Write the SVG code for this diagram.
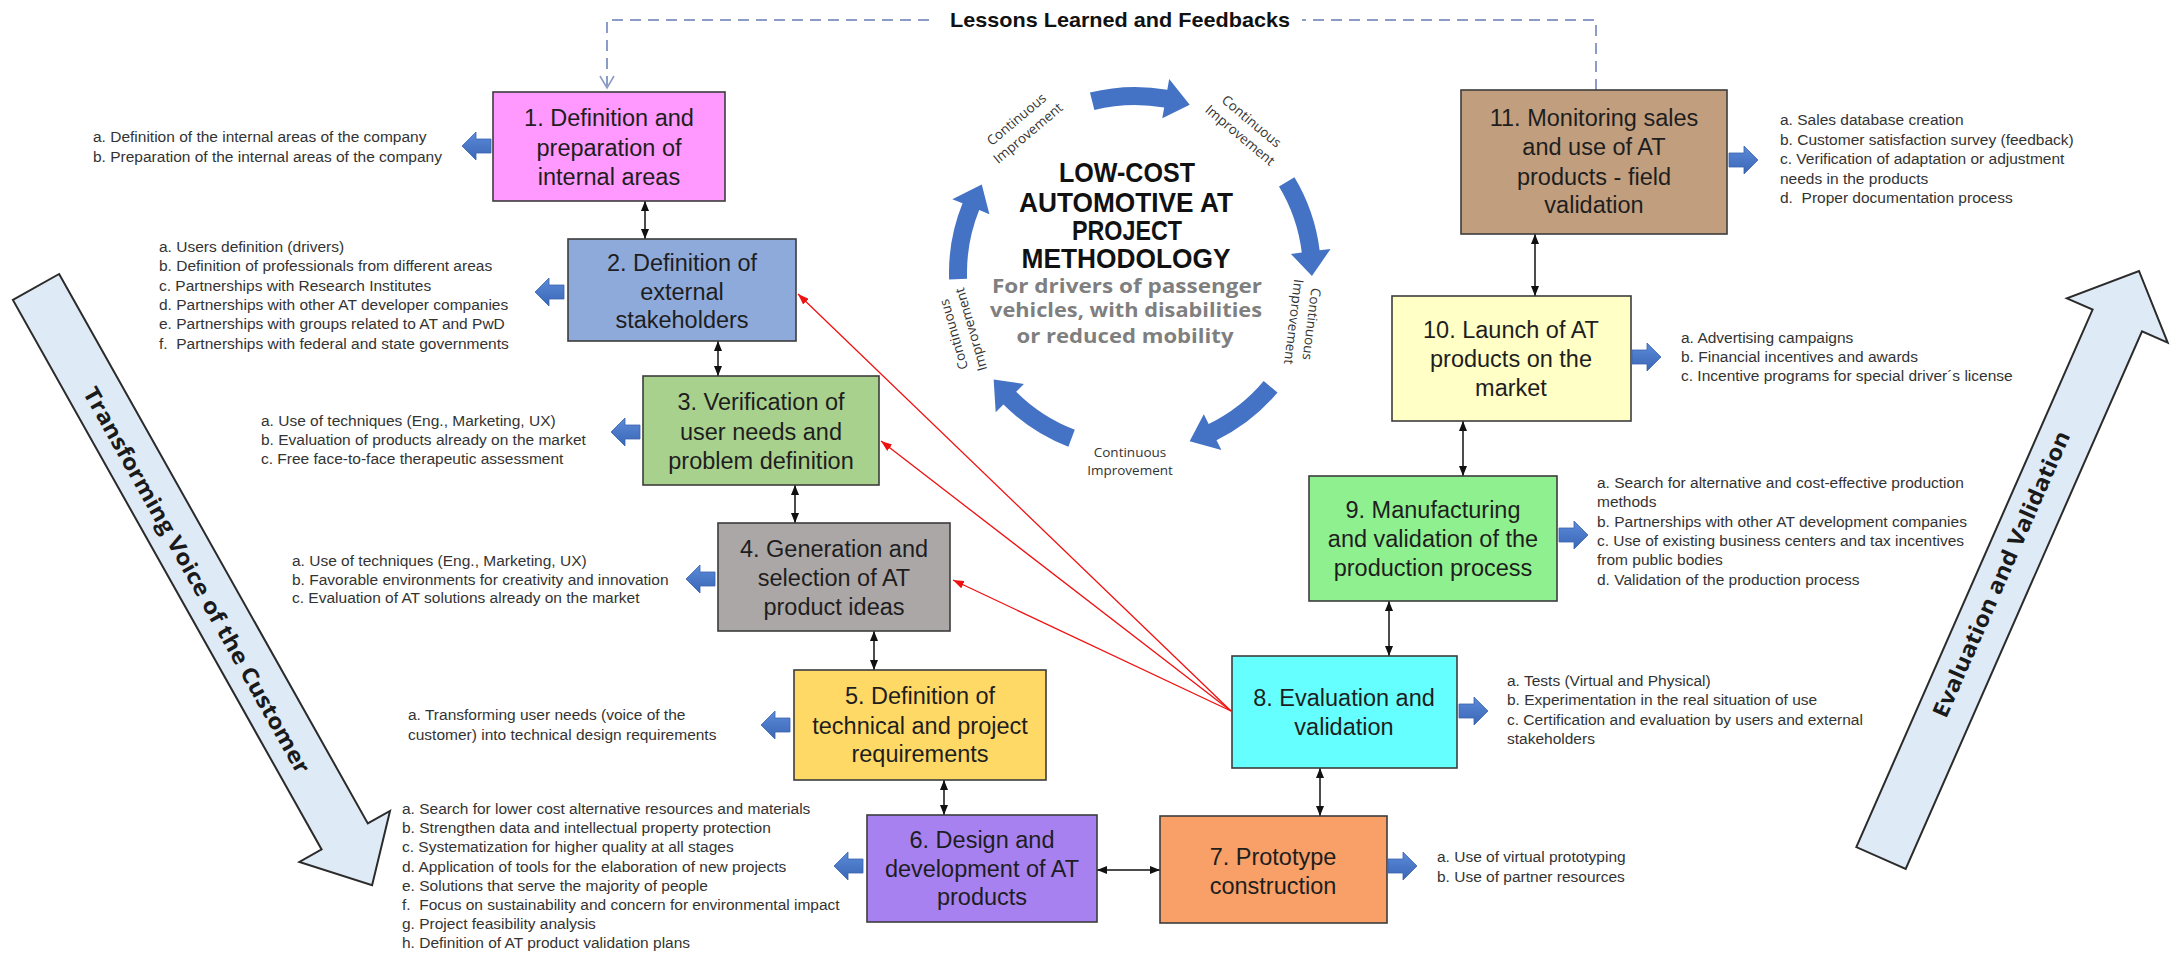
<svg xmlns="http://www.w3.org/2000/svg" width="2177" height="955" viewBox="0 0 2177 955">
<style>
.box{stroke:#3c3c3c;stroke-width:1.6}
.bt{font-family:"Liberation Sans",Arial,sans-serif;font-size:23.5px;fill:#1e1e1e;text-anchor:middle}
.li{font-family:"Liberation Sans",Arial,sans-serif;font-size:15.5px;fill:#333}
.conn{stroke:#111;stroke-width:1.5;fill:none;marker-start:url(#ah);marker-end:url(#ah)}
.red{stroke:#f01010;stroke-width:1.3;fill:none;marker-end:url(#rh)}
.fb{stroke:#8c9cc6;stroke-width:2;fill:none;stroke-dasharray:11 7}
.blk{fill:url(#bg);stroke:#3a63ad;stroke-width:0.8}
.ci{fill:#4472c4}
.cl{font-family:"Open Sans","Liberation Sans",sans-serif;font-size:13.5px;fill:#333;text-anchor:middle}
.big{fill:#deebf7;stroke:#2b2b2b;stroke-width:2}
.bigt{font-family:"Open Sans","Liberation Sans",sans-serif;font-weight:700;font-size:22px;fill:#1a1a1a;text-anchor:middle}
.ttl{font-family:"Liberation Sans",Arial,sans-serif;font-weight:700;font-size:28px;fill:#111;text-anchor:middle}
.sub{font-family:"Open Sans","Liberation Sans",sans-serif;font-weight:700;font-size:20px;fill:#7f7f7f;text-anchor:middle}
</style>
<defs>
  <linearGradient id="bg" x1="0" y1="0" x2="0" y2="1">
    <stop offset="0" stop-color="#5b8bd9"/>
    <stop offset="1" stop-color="#3a66b6"/>
  </linearGradient>
  <marker id="ah" viewBox="0 0 10 8" refX="10" refY="4" markerWidth="10" markerHeight="8" markerUnits="userSpaceOnUse" orient="auto-start-reverse">
    <path d="M0,0 L10,4 L0,8 Z" fill="#111"/>
  </marker>
  <marker id="rh" viewBox="0 0 11 8" refX="11" refY="4" markerWidth="11" markerHeight="8" markerUnits="userSpaceOnUse" orient="auto">
    <path d="M0,0 L11,4 L0,8 Z" fill="#f01010"/>
  </marker>
  <!-- small block arrows: tip at origin -->
  <path id="bl" class="blk" d="M0,0 L14,-14 L14,-7 L29,-7 L29,7 L14,7 L14,14 Z"/>
  <path id="br" class="blk" d="M0,0 L-14,-14 L-14,-7 L-29,-7 L-29,7 L-14,7 L-14,14 Z"/>
  <!-- curved arrow segment of the improvement cycle, centred on the top of the circle -->
  <path id="cyc" class="ci" d="M-51.3,-178.8 A186,186 0 0 1 25.9,-184.2 L27.4,-195.1 L48.8,-170.1 L21.9,-155.5 L23.4,-166.4 A168,168 0 0 0 -46.3,-161.5 Z"/>
</defs>

<rect width="2177" height="955" fill="#fff"/>

<!-- side process arrows -->
<g id="voice-arrow">
  <polygon class="big" points="59.1,274 367.8,823.4 390,810.9 372.1,885.2 299.4,861.9 321.6,849.4 12.9,300"/>
  <text class="bigt" transform="translate(197,580) rotate(60.7)" y="8" textLength="439" lengthAdjust="spacingAndGlyphs">Transforming Voice of the Customer</text>
</g>
<g id="validation-arrow">
  <polygon class="big" points="1856.3,847.1 2092.6,309.6 2066.9,298.4 2139,271 2167.7,342.6 2142,331.4 1905.7,868.9"/>
  <text class="bigt" transform="translate(2001,574) rotate(-66.3)" y="8" textLength="310" lengthAdjust="spacingAndGlyphs">Evaluation and Validation</text>
</g>

<!-- central improvement cycle -->
<g id="cycle">
  <use href="#cyc" transform="translate(1135,273) rotate(2)"/>
  <use href="#cyc" transform="translate(1135,273) rotate(75)"/>
  <use href="#cyc" transform="translate(1135,273) rotate(146)"/>
  <use href="#cyc" transform="translate(1135,273) rotate(217)"/>
  <use href="#cyc" transform="translate(1135,273) rotate(284)"/>
  <g class="cl" transform="translate(1022,126) rotate(-40)"><text y="-4">Continuous</text><text y="14">Improvement</text></g>
  <g class="cl" transform="translate(1246,128) rotate(40)"><text y="-4">Continuous</text><text y="14">Improvement</text></g>
  <g class="cl" transform="translate(1303,323) rotate(97)"><text y="-4">Continuous</text><text y="14">Improvement</text></g>
  <g class="cl" transform="translate(1130,461)"><text y="-4">Continuous</text><text y="14">Improvement</text></g>
  <g class="cl" transform="translate(962,332) rotate(-106)"><text y="-4">Continuous</text><text y="14">Improvement</text></g>
  <text class="ttl" x="1127" y="182" textLength="136" lengthAdjust="spacingAndGlyphs">LOW-COST</text>
  <text class="ttl" x="1126" y="212" textLength="214" lengthAdjust="spacingAndGlyphs">AUTOMOTIVE AT</text>
  <text class="ttl" x="1127" y="240" textLength="110" lengthAdjust="spacingAndGlyphs">PROJECT</text>
  <text class="ttl" x="1126" y="268" textLength="209" lengthAdjust="spacingAndGlyphs">METHODOLOGY</text>
  <text class="sub" x="1127" y="293" textLength="270" lengthAdjust="spacingAndGlyphs">For drivers of passenger</text>
  <text class="sub" x="1126" y="317" textLength="272" lengthAdjust="spacingAndGlyphs">vehicles, with disabilities</text>
  <text class="sub" x="1125" y="343" textLength="217" lengthAdjust="spacingAndGlyphs">or reduced mobility</text>
</g>

<!-- feedback loop -->
<g id="feedback">
  <path class="fb" d="M1596,90 V20 H1302"/>
  <path class="fb" d="M929,20 H607 V86"/>
  <polyline points="600,76 607,88 614,76" fill="none" stroke="#8c9cc6" stroke-width="1.6"/>
  <text x="1120" y="27" font-family="Liberation Sans, Arial, sans-serif" font-weight="700" font-size="21" fill="#111" text-anchor="middle" textLength="340" lengthAdjust="spacingAndGlyphs">Lessons Learned and Feedbacks</text>
</g>

<!-- connectors -->
<g id="connectors">
  <line class="conn" x1="645" y1="201" x2="645" y2="239"/>
  <line class="conn" x1="718" y1="341" x2="718" y2="376"/>
  <line class="conn" x1="795" y1="485" x2="795" y2="523"/>
  <line class="conn" x1="874" y1="631" x2="874" y2="670"/>
  <line class="conn" x1="944" y1="780" x2="944" y2="815"/>
  <line class="conn" x1="1097" y1="870" x2="1160" y2="870"/>
  <line class="conn" x1="1320" y1="768" x2="1320" y2="816"/>
  <line class="conn" x1="1389" y1="601" x2="1389" y2="656"/>
  <line class="conn" x1="1463" y1="421" x2="1463" y2="476"/>
  <line class="conn" x1="1535" y1="234" x2="1535" y2="296"/>
  <line class="red" x1="1231" y1="711" x2="798" y2="294"/>
  <line class="red" x1="1231" y1="711" x2="881" y2="441"/>
  <line class="red" x1="1231" y1="711" x2="953" y2="580"/>
</g>

<g id="node-1">
  <rect class="box" x="493" y="92" width="232" height="109" fill="#ff99ff"/>
  <text class="bt"><tspan x="609" y="126">1. Definition and</tspan><tspan x="609" y="156">preparation of</tspan><tspan x="609" y="185">internal areas</tspan></text>
  <use href="#bl" x="462" y="146"/>
  <text class="li"><tspan x="93" y="142">a. Definition of the internal areas of the company</tspan><tspan x="93" y="162">b. Preparation of the internal areas of the company</tspan></text>
</g>

<g id="node-2">
  <rect class="box" x="568" y="239" width="228" height="102" fill="#8eaadb"/>
  <text class="bt"><tspan x="682" y="271">2. Definition of</tspan><tspan x="682" y="300">external</tspan><tspan x="682" y="328">stakeholders</tspan></text>
  <use href="#bl" x="535" y="292"/>
  <text class="li"><tspan x="159" y="252">a. Users definition (drivers)</tspan><tspan x="159" y="271.3">b. Definition of professionals from different areas</tspan><tspan x="159" y="290.6">c. Partnerships with Research Institutes</tspan><tspan x="159" y="309.9">d. Partnerships with other AT developer companies</tspan><tspan x="159" y="329.2">e. Partnerships with groups related to AT and PwD</tspan><tspan x="159" y="348.5">f.&#160; Partnerships with federal and state governments</tspan></text>
</g>

<g id="node-3">
  <rect class="box" x="643" y="376" width="236" height="109" fill="#a9d18e"/>
  <text class="bt"><tspan x="761" y="410">3. Verification of</tspan><tspan x="761" y="440">user needs and</tspan><tspan x="761" y="469">problem definition</tspan></text>
  <use href="#bl" x="611" y="432"/>
  <text class="li"><tspan x="261" y="426">a. Use of techniques (Eng., Marketing, UX)</tspan><tspan x="261" y="445">b. Evaluation of products already on the market</tspan><tspan x="261" y="464">c. Free face-to-face therapeutic assessment</tspan></text>
</g>

<g id="node-4">
  <rect class="box" x="718" y="523" width="232" height="108" fill="#aba7a7"/>
  <text class="bt"><tspan x="834" y="557">4. Generation and</tspan><tspan x="834" y="586">selection of AT</tspan><tspan x="834" y="615">product ideas</tspan></text>
  <use href="#bl" x="686" y="579"/>
  <text class="li"><tspan x="292" y="566">a. Use of techniques (Eng., Marketing, UX)</tspan><tspan x="292" y="584.7">b. Favorable environments for creativity and innovation</tspan><tspan x="292" y="603.4">c. Evaluation of AT solutions already on the market</tspan></text>
</g>

<g id="node-5">
  <rect class="box" x="794" y="670" width="252" height="110" fill="#ffd966"/>
  <text class="bt"><tspan x="920" y="704">5. Definition of</tspan><tspan x="920" y="734">technical and project</tspan><tspan x="920" y="762">requirements</tspan></text>
  <use href="#bl" x="761" y="725"/>
  <text class="li"><tspan x="408" y="720">a. Transforming user needs (voice of the</tspan><tspan x="408" y="740">customer) into technical design requirements</tspan></text>
</g>

<g id="node-6">
  <rect class="box" x="867" y="815" width="230" height="107" fill="#a881f1"/>
  <text class="bt"><tspan x="982" y="848">6. Design and</tspan><tspan x="982" y="877">development of AT</tspan><tspan x="982" y="905">products</tspan></text>
  <use href="#bl" x="834" y="866"/>
  <text class="li"><tspan x="402" y="814">a. Search for lower cost alternative resources and materials</tspan><tspan x="402" y="833.2">b. Strengthen data and intellectual property protection</tspan><tspan x="402" y="852.4">c. Systematization for higher quality at all stages</tspan><tspan x="402" y="871.6">d. Application of tools for the elaboration of new projects</tspan><tspan x="402" y="890.8">e. Solutions that serve the majority of people</tspan><tspan x="402" y="910">f.&#160; Focus on sustainability and concern for environmental impact</tspan><tspan x="402" y="929.2">g. Project feasibility analysis</tspan><tspan x="402" y="948.4">h. Definition of AT product validation plans</tspan></text>
</g>

<g id="node-7">
  <rect class="box" x="1160" y="816" width="227" height="107" fill="#f8a067"/>
  <text class="bt"><tspan x="1273" y="865">7. Prototype</tspan><tspan x="1273" y="894">construction</tspan></text>
  <use href="#br" x="1417" y="866"/>
  <text class="li"><tspan x="1437" y="862">a. Use of virtual prototyping</tspan><tspan x="1437" y="882">b. Use of partner resources</tspan></text>
</g>

<g id="node-8">
  <rect class="box" x="1232" y="656" width="225" height="112" fill="#66ffff"/>
  <text class="bt"><tspan x="1344" y="706">8. Evaluation and</tspan><tspan x="1344" y="735">validation</tspan></text>
  <use href="#br" x="1488" y="711"/>
  <text class="li"><tspan x="1507" y="686">a. Tests (Virtual and Physical)</tspan><tspan x="1507" y="705.3">b. Experimentation in the real situation of use</tspan><tspan x="1507" y="724.6">c. Certification and evaluation by users and external</tspan><tspan x="1507" y="743.9">stakeholders</tspan></text>
</g>

<g id="node-9">
  <rect class="box" x="1309" y="476" width="248" height="125" fill="#8ff08f"/>
  <text class="bt"><tspan x="1433" y="518">9. Manufacturing</tspan><tspan x="1433" y="547">and validation of the</tspan><tspan x="1433" y="576">production process</tspan></text>
  <use href="#br" x="1588" y="535"/>
  <text class="li"><tspan x="1597" y="488">a. Search for alternative and cost-effective production</tspan><tspan x="1597" y="507.3">methods</tspan><tspan x="1597" y="526.6">b. Partnerships with other AT development companies</tspan><tspan x="1597" y="545.9">c. Use of existing business centers and tax incentives</tspan><tspan x="1597" y="565.2">from public bodies</tspan><tspan x="1597" y="584.5">d. Validation of the production process</tspan></text>
</g>

<g id="node-10">
  <rect class="box" x="1392" y="296" width="239" height="125" fill="#ffffc6"/>
  <text class="bt"><tspan x="1511" y="338">10. Launch of AT</tspan><tspan x="1511" y="367">products on the</tspan><tspan x="1511" y="396">market</tspan></text>
  <use href="#br" x="1661" y="357"/>
  <text class="li"><tspan x="1681" y="343">a. Advertising campaigns</tspan><tspan x="1681" y="362">b. Financial incentives and awards</tspan><tspan x="1681" y="381">c. Incentive programs for special driver´s license</tspan></text>
</g>

<g id="node-11">
  <rect class="box" x="1461" y="90" width="266" height="144" fill="#c19e7e"/>
  <text class="bt"><tspan x="1594" y="126">11. Monitoring sales</tspan><tspan x="1594" y="155">and use of AT</tspan><tspan x="1594" y="185">products - field</tspan><tspan x="1594" y="213">validation</tspan></text>
  <use href="#br" x="1758" y="160"/>
  <text class="li"><tspan x="1780" y="125">a. Sales database creation</tspan><tspan x="1780" y="144.5">b. Customer satisfaction survey (feedback)</tspan><tspan x="1780" y="164">c. Verification of adaptation or adjustment</tspan><tspan x="1780" y="183.5">needs in the products</tspan><tspan x="1780" y="203">d.&#160; Proper documentation process</tspan></text>
</g>
</svg>
